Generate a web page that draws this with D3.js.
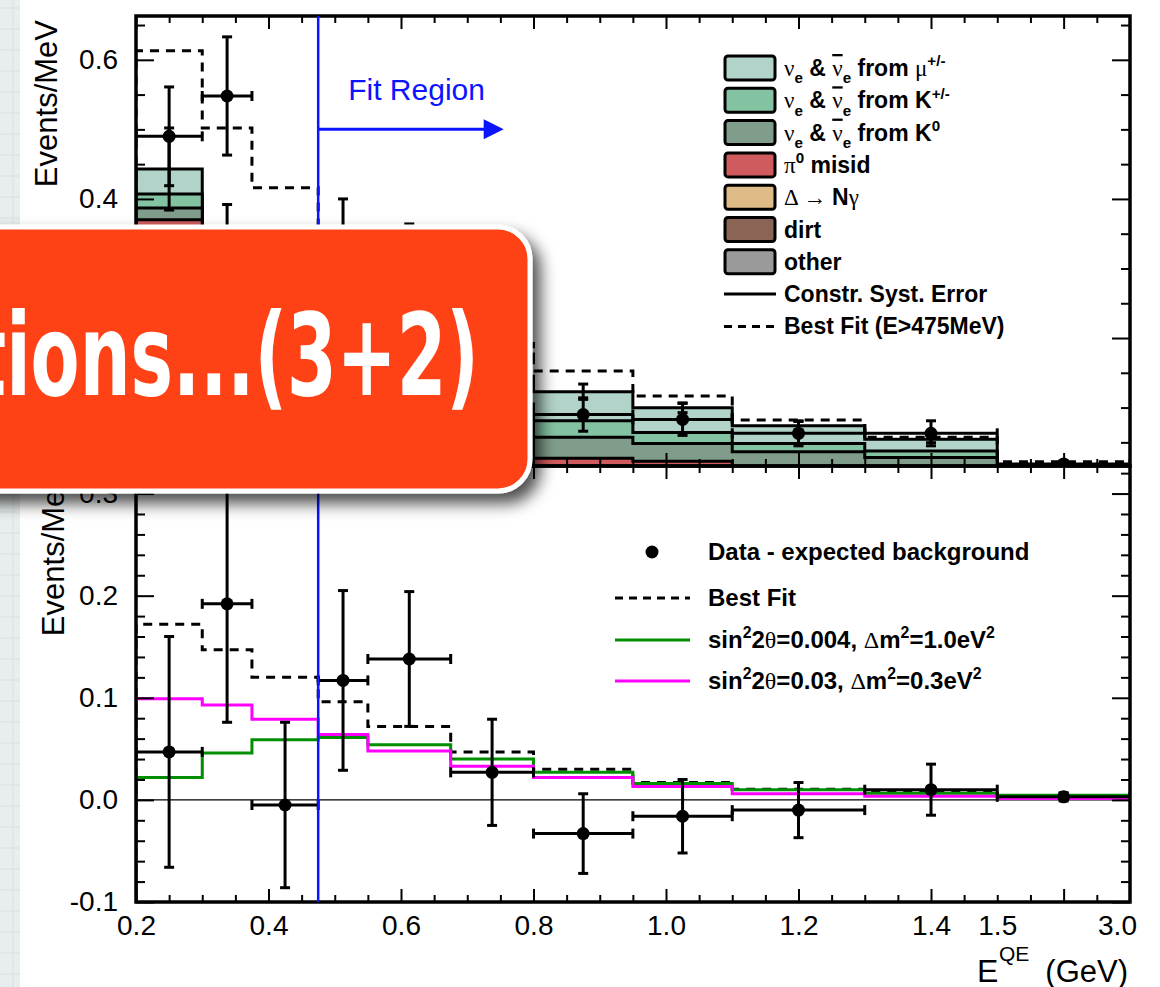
<!DOCTYPE html>
<html>
<head>
<meta charset="utf-8">
<script src="https://cdn.jsdelivr.net/npm/d3@7"></script>
<style>
  body { margin: 0; background: #fff; }
  svg { display: block; }
</style>
</head>
<body>
<svg id="chart" width="1160" height="987"></svg>
<script>
// ---- data (Events/MeV) ----
const binEdges = [0.2, 0.3, 0.375, 0.475, 0.55, 0.675, 0.8, 0.95, 1.1, 1.3, 1.5, 3.0];

// top panel: stacked backgrounds per bin
const bkgMu    = [0.036, 0.030, 0.033, 0.035, 0.037, 0.040, 0.0417, 0.0354, 0.0255, 0.0171, 0.005];
const bkgKpm   = [0.020, 0.018, 0.018, 0.020, 0.022, 0.023, 0.0239, 0.0158, 0.0121, 0.009, 0.003];
const bkgK0    = [0.017, 0.017, 0.020, 0.022, 0.025, 0.028, 0.0302, 0.0255, 0.022, 0.015, 0.004];
const bkgPi0   = [0.180, 0.150, 0.115, 0.080, 0.055, 0.030, 0.012, 0.008, 0.005, 0.004, 0.002];
const bkgDelta = [0.080, 0.060, 0.048, 0.030, 0.018, 0.008, 0.004, 0.003, 0.002, 0.0015, 0.0005];
const bkgDirt  = [0.030, 0.025, 0.018, 0.010, 0.007, 0.005, 0.004, 0.004, 0.002, 0.002, 0.001];
const bkgOther = [0.080, 0.055, 0.044, 0.023, 0.016, 0.011, 0.007, 0.008, 0.0054, 0.0059, 0.0025];
const systErr  = [0.059, 0.037, 0.030, 0.025, 0.020, 0.015, 0.011, 0.007, 0.006, 0.005, 0.002];
const dataTop    = [0.490, 0.548, 0.291, 0.337, 0.318, 0.172, 0.090, 0.083, 0.063, 0.063, 0.019];
const dataTopErr = [0.071, 0.085, 0.057, 0.063, 0.046, 0.035, 0.024, 0.023, 0.018, 0.018, 0.004];
const bestFitTop = [0.613, 0.502, 0.416, 0.316, 0.252, 0.192, 0.1525, 0.1165, 0.082, 0.0575, 0.022];

// bottom panel: data - expected background
const excess     = [0.047, 0.192, -0.005, 0.117, 0.138, 0.027, -0.033, -0.016, -0.010, 0.010, 0.003];
const excessErr  = [0.113, 0.116, 0.081, 0.088, 0.066, 0.052, 0.039, 0.036, 0.027, 0.025, 0.004];
const bestFitSig = [0.172, 0.147, 0.120, 0.096, 0.072, 0.047, 0.030, 0.017, 0.0105, 0.0075, 0.004];
const osc004     = [0.022, 0.046, 0.059, 0.061, 0.054, 0.040, 0.027, 0.016, 0.010, 0.0065, 0.0046];
const osc003     = [0.099, 0.093, 0.079, 0.064, 0.048, 0.033, 0.022, 0.013, 0.006, 0.0035, 0.0013];

// ticks
const xLabelTicks = [0.2, 0.4, 0.6, 0.8, 1.0, 1.2, 1.4, 1.5, 3.0];
const xMajorTicks = [0.2, 0.4, 0.6, 0.8, 1.0, 1.2, 1.4, 2.25];
const xMinorTicks = [0.25, 0.3, 0.35, 0.45, 0.5, 0.55, 0.65, 0.7, 0.75, 0.85, 0.9, 0.95,
                     1.05, 1.1, 1.15, 1.25, 1.3, 1.35, 1.45, 1.5, 1.875, 2.625];
const yTopLabels = [0.2, 0.4, 0.6];
const yTopMinor  = [0.05, 0.1, 0.15, 0.25, 0.3, 0.35, 0.45, 0.5, 0.55, 0.65];
const yBotLabels = [-0.1, 0.0, 0.1, 0.2, 0.3];
const yBotMinor  = [-0.08, -0.06, -0.04, -0.02, 0.02, 0.04, 0.06, 0.08, 0.12, 0.14, 0.16, 0.18,
                    0.22, 0.24, 0.26, 0.28, 0.32];

// ---- styling ----
const FONT  = "'Liberation Sans', Arial, Helvetica, sans-serif";
const GREEK = "'Liberation Serif', 'DejaVu Serif', serif";
const BLUE = '#0a14ff';
const COLORS = {
  mu: '#b2d3c9', kpm: '#84c3a2', k0: '#809d8b', pi0: '#cf5b5e',
  delta: '#dfbb88', dirt: '#8a6555', other: '#9a9a9a'
};

const W = 1160, H = 987;
const L = 136, R = 1130;
const TOP1 = 16, BOT1 = 466, BOT2 = 902;

const svg = d3.select('#chart');

const x = d3.scaleLinear().domain([0.2, 1.5, 3.0]).range([L, 997.25, R]);
const yTop = d3.scaleLinear().domain([0.016, 0.663]).range([BOT1, TOP1]);
const yBot = d3.scaleLinear().domain([-0.1, 0.327]).range([BOT2, BOT1]);

// page background strip + white slide
svg.append('rect').attr('width', W).attr('height', H).attr('fill', '#e8eded');
svg.append('g').selectAll('line').data(d3.range(8, H, 21)).join('line')
  .attr('x1', 0).attr('x2', 20).attr('y1', d => d).attr('y2', d => d)
  .attr('stroke', '#d9e0e0').attr('stroke-width', 1);
svg.append('line').attr('x1', 13).attr('x2', 13).attr('y1', 0).attr('y2', H)
  .attr('stroke', '#d9e0e0');
svg.append('rect').attr('x', 20).attr('width', W - 20).attr('height', H).attr('fill', '#fff');

const defs = svg.append('defs');
defs.append('clipPath').attr('id', 'clipTop').append('rect')
  .attr('x', L).attr('y', TOP1).attr('width', R - L).attr('height', BOT1 - TOP1);
defs.append('clipPath').attr('id', 'clipBot').append('rect')
  .attr('x', L).attr('y', BOT1).attr('width', R - L).attr('height', BOT2 - BOT1);
const shadow = defs.append('filter').attr('id', 'shadow')
  .attr('x', '-20%').attr('y', '-20%').attr('width', '140%').attr('height', '150%');
shadow.append('feDropShadow').attr('dx', 8).attr('dy', 10).attr('stdDeviation', 8)
  .attr('flood-color', '#000').attr('flood-opacity', 0.7);

const bins = binEdges.slice(0, -1).map((lo, i) => ({ lo, hi: binEdges[i + 1], i }));
const cx = b => (x(b.lo) + x(b.hi)) / 2;
const stepPts = vals => binEdges.map((e, i) => ({ e, v: vals[Math.min(i, vals.length - 1)] }));

function stepLine(yS, vals, fromBottom) {
  const pts = stepPts(vals);
  if (fromBottom) pts.unshift({ e: binEdges[0], v: yS.domain()[0] - 0.05 });
  return d3.line().curve(d3.curveStepAfter).x(d => x(d.e)).y(d => yS(d.v))(pts);
}

function errorCross(g, b, yS, v, err, withHoriz) {
  const px = cx(b), py = yS(v);
  const stroke = s => s.attr('stroke', '#000').attr('stroke-width', 3);
  g.append('line').attr('x1', px).attr('x2', px).attr('y1', yS(v - err)).attr('y2', yS(v + err)).call(stroke);
  [v - err, v + err].forEach(e => {
    g.append('line').attr('x1', px - 5).attr('x2', px + 5).attr('y1', yS(e)).attr('y2', yS(e)).call(stroke);
  });
  if (withHoriz) {
    g.append('line').attr('x1', x(b.lo)).attr('x2', x(b.hi)).attr('y1', py).attr('y2', py).call(stroke);
    [b.lo, b.hi].forEach(e => {
      g.append('line').attr('x1', x(e)).attr('x2', x(e)).attr('y1', py - 5).attr('y2', py + 5).call(stroke);
    });
    g.append('circle').attr('cx', px).attr('cy', py).attr('r', 6.5).attr('fill', '#000');
  }
}

function frameAndTicks(yS, top, bottom, majors, minors) {
  const g = svg.append('g');
  const tick = (gen, tr, vals, size) => g.append('g').attr('transform', tr)
    .call(gen.tickValues(vals).tickSize(size).tickFormat(''))
    .call(a => a.select('.domain').remove())
    .call(a => a.selectAll('line').attr('stroke', '#000').attr('stroke-width', 2));
  tick(d3.axisRight(yS), `translate(${L},0)`, majors, 18);
  tick(d3.axisRight(yS), `translate(${L},0)`, minors, 9);
  tick(d3.axisLeft(yS), `translate(${R},0)`, majors, 18);
  tick(d3.axisLeft(yS), `translate(${R},0)`, minors, 9);
  tick(d3.axisBottom(x), `translate(0,${top})`, xMajorTicks, 13);
  tick(d3.axisBottom(x), `translate(0,${top})`, xMinorTicks, 7);
  tick(d3.axisTop(x), `translate(0,${bottom})`, xMajorTicks, 13);
  tick(d3.axisTop(x), `translate(0,${bottom})`, xMinorTicks, 7);
  g.append('rect').attr('x', L).attr('y', top).attr('width', R - L).attr('height', bottom - top)
    .attr('fill', 'none').attr('stroke', '#000').attr('stroke-width', 3.5);
  // tick labels
  g.append('g').attr('transform', `translate(${L},0)`)
    .call(d3.axisLeft(yS).tickValues(majors.filter(v => yS.domain()[0] <= v + 1e-9 && v <= yS.domain()[1]))
      .tickSize(0).tickPadding(18).tickFormat(d => d.toFixed(1)))
    .call(a => a.select('.domain').remove())
    .call(a => a.selectAll('text').attr('font-family', FONT).attr('font-size', 28).attr('fill', '#000'));
}

// ============ TOP PANEL ============
const keys = ['other', 'dirt', 'delta', 'pi0', 'k0', 'kpm', 'mu'];
const comp = { other: bkgOther, dirt: bkgDirt, delta: bkgDelta, pi0: bkgPi0, k0: bkgK0, kpm: bkgKpm, mu: bkgMu };
const rows = bins.map(b => Object.fromEntries(keys.map(k => [k, comp[k][b.i]])));
const stacked = d3.stack().keys(keys)(rows);

const gTop = svg.append('g').attr('clip-path', 'url(#clipTop)');
const area = d3.area().curve(d3.curveStepAfter)
  .x(d => x(d.e)).y0(BOT1 + 20).y1(d => yTop(d.v));
stacked.slice().reverse().forEach(s => {
  gTop.append('path').datum(stepPts(s.map(d => d[1])))
    .attr('d', area).attr('fill', COLORS[s.key])
    .attr('stroke', '#000').attr('stroke-width', 3);
});

const mcTotal = stacked[stacked.length - 1].map(d => d[1]);
gTop.append('path').attr('d', stepLine(yTop, bestFitTop, true))
  .attr('fill', 'none').attr('stroke', '#000').attr('stroke-width', 3).attr('stroke-dasharray', '9,7');

bins.forEach(b => errorCross(gTop, b, yTop, mcTotal[b.i], systErr[b.i], false));
bins.forEach(b => errorCross(gTop, b, yTop, dataTop[b.i], dataTopErr[b.i], true));

frameAndTicks(yTop, TOP1, BOT1, yTopLabels, yTopMinor);

// ============ BOTTOM PANEL ============
const gBot = svg.append('g').attr('clip-path', 'url(#clipBot)');
gBot.append('line').attr('x1', L).attr('x2', R).attr('y1', yBot(0)).attr('y2', yBot(0))
  .attr('stroke', '#000').attr('stroke-width', 1.2);
gBot.append('path').attr('d', stepLine(yBot, bestFitSig, true))
  .attr('fill', 'none').attr('stroke', '#000').attr('stroke-width', 3).attr('stroke-dasharray', '9,7');
gBot.append('path').attr('d', stepLine(yBot, osc004, true))
  .attr('fill', 'none').attr('stroke', '#008f00').attr('stroke-width', 3);
gBot.append('path').attr('d', stepLine(yBot, osc003, true))
  .attr('fill', 'none').attr('stroke', '#ff00ff').attr('stroke-width', 3);
bins.forEach(b => errorCross(gBot, b, yBot, excess[b.i], excessErr[b.i], true));

frameAndTicks(yBot, BOT1, BOT2, yBotLabels, yBotMinor);

// x tick labels
svg.append('g').attr('transform', `translate(0,${BOT2})`)
  .call(d3.axisBottom(x).tickValues(xLabelTicks).tickSize(0).tickPadding(13).tickFormat(d => d.toFixed(1)))
  .call(a => a.select('.domain').remove())
  .call(a => a.selectAll('text').attr('font-family', FONT).attr('font-size', 28).attr('fill', '#000')
    .attr('dx', d => d === 3.0 ? -13 : 0));

// axis titles
const yTitle = (bx, top) => svg.append('text')
  .attr('transform', `translate(${bx},${top}) rotate(-90)`)
  .attr('text-anchor', 'end').attr('font-family', FONT).attr('font-size', 31)
  .text('Events/MeV');
yTitle(57, TOP1 + 4);
yTitle(64, BOT1 + 3);

const xt = svg.append('g').attr('font-family', FONT);
xt.append('text').attr('x', 977).attr('y', 982).attr('font-size', 32).text('E');
xt.append('text').attr('x', 999).attr('y', 961).attr('font-size', 21).text('QE');
xt.append('text').attr('x', 1000).attr('y', 997).attr('font-size', 21).attr('font-family', GREEK).text('ν');
xt.append('text').attr('x', 1128).attr('y', 982).attr('font-size', 31).attr('text-anchor', 'end').text('(GeV)');

// ---- legends ----
function richText(g, tx, ty, parts, size) {
  const t = g.append('text').attr('x', tx).attr('y', ty)
    .attr('font-family', FONT).attr('font-weight', 'bold').attr('font-size', size);
  let shift = 0;
  parts.forEach(p => {
    const target = p.sub ? size * 0.32 : p.sup ? -size * 0.42 : 0;
    const sp = t.append('tspan').attr('dy', target - shift).text(p.t);
    shift = target;
    if (p.sub || p.sup) sp.attr('font-size', size * 0.66);
    if (p.greek) sp.attr('font-family', GREEK).attr('font-weight', 'normal');
    if (p.bar) sp.style('text-decoration', 'overline');
  });
}

const nuPair = [{ t: 'ν', greek: true }, { t: 'e', sub: true }, { t: ' & ' },
                { t: 'ν', greek: true, bar: true }, { t: 'e', sub: true }, { t: ' from ' }];
const topLegend = [
  { key: 'mu',    parts: [...nuPair, { t: 'μ', greek: true }, { t: '+/-', sup: true }] },
  { key: 'kpm',   parts: [...nuPair, { t: 'K' }, { t: '+/-', sup: true }] },
  { key: 'k0',    parts: [...nuPair, { t: 'K' }, { t: '0', sup: true }] },
  { key: 'pi0',   parts: [{ t: 'π', greek: true }, { t: '0', sup: true }, { t: ' misid' }] },
  { key: 'delta', parts: [{ t: 'Δ → ', greek: true }, { t: 'N' }, { t: 'γ', greek: true }] },
  { key: 'dirt',  parts: [{ t: 'dirt' }] },
  { key: 'other', parts: [{ t: 'other' }] },
  { key: 'syst',  parts: [{ t: 'Constr. Syst. Error' }] },
  { key: 'best',  parts: [{ t: 'Best Fit (E>475MeV)' }] }
];
const gLeg = svg.append('g');
topLegend.forEach((item, i) => {
  const cy = 68 + i * 32.3;
  if (COLORS[item.key]) {
    gLeg.append('rect').attr('x', 725).attr('y', cy - 12).attr('width', 50).attr('height', 24).attr('rx', 3)
      .attr('fill', COLORS[item.key]).attr('stroke', '#000').attr('stroke-width', 3);
  } else {
    gLeg.append('line').attr('x1', 724).attr('x2', 776).attr('y1', cy).attr('y2', cy)
      .attr('stroke', '#000').attr('stroke-width', 3)
      .attr('stroke-dasharray', item.key === 'best' ? '8,6' : null);
  }
  richText(gLeg, 784, cy + 8, item.parts, 23);
});

const botLegend = [
  { type: 'dot', parts: [{ t: 'Data - expected background' }] },
  { type: 'dash', color: '#000', parts: [{ t: 'Best Fit' }] },
  { type: 'line', color: '#008f00', parts: [{ t: 'sin' }, { t: '2', sup: true }, { t: '2' }, { t: 'θ', greek: true },
      { t: '=0.004, ' }, { t: 'Δ', greek: true }, { t: 'm' }, { t: '2', sup: true }, { t: '=1.0eV' }, { t: '2', sup: true }] },
  { type: 'line', color: '#ff00ff', parts: [{ t: 'sin' }, { t: '2', sup: true }, { t: '2' }, { t: 'θ', greek: true },
      { t: '=0.03, ' }, { t: 'Δ', greek: true }, { t: 'm' }, { t: '2', sup: true }, { t: '=0.3eV' }, { t: '2', sup: true }] }
];
const botRows = [552, 598, 640, 681];
botLegend.forEach((item, i) => {
  const cy = botRows[i];
  if (item.type === 'dot') {
    gLeg.append('circle').attr('cx', 652).attr('cy', cy).attr('r', 6.5).attr('fill', '#000');
  } else {
    gLeg.append('line').attr('x1', 615).attr('x2', 690).attr('y1', cy).attr('y2', cy)
      .attr('stroke', item.color).attr('stroke-width', 3)
      .attr('stroke-dasharray', item.type === 'dash' ? '8,6' : null);
  }
  richText(gLeg, 708, cy + 8, item.parts, 24);
});

// ---- fit region marker ----
const fitEdge = 0.475;
svg.append('line').attr('x1', x(fitEdge)).attr('x2', x(fitEdge)).attr('y1', TOP1).attr('y2', BOT2)
  .attr('stroke', BLUE).attr('stroke-width', 2.5);
const arrowY = yTop(0.5), arrowTip = x(0.755);
svg.append('line').attr('x1', x(fitEdge)).attr('x2', arrowTip - 12).attr('y1', arrowY).attr('y2', arrowY)
  .attr('stroke', BLUE).attr('stroke-width', 3);
svg.append('path')
  .attr('d', `M${arrowTip},${arrowY} L${arrowTip - 20},${arrowY - 10} L${arrowTip - 20},${arrowY + 10} Z`)
  .attr('fill', BLUE);
svg.append('text').attr('x', x(fitEdge) + 30).attr('y', 100)
  .attr('font-family', FONT).attr('font-size', 30).attr('fill', BLUE).text('Fit Region');

// ---- slide banner over the plot ----
const banner = svg.append('g');
banner.append('rect').attr('x', -60).attr('y', 227).attr('width', 590).attr('height', 264).attr('rx', 32)
  .attr('fill', '#ff4314').attr('stroke', '#fff').attr('stroke-width', 5)
  .attr('filter', 'url(#shadow)');
banner.append('text').attr('x', -28).attr('y', 395)
  .attr('font-family', "'DejaVu Sans Condensed', 'DejaVu Sans', sans-serif")
  .attr('font-weight', 'bold').attr('font-size', 114).attr('fill', '#fff')
  .attr('textLength', 507).attr('lengthAdjust', 'spacingAndGlyphs')
  .text('tions...(3+2)');
</script>
</body>
</html>
